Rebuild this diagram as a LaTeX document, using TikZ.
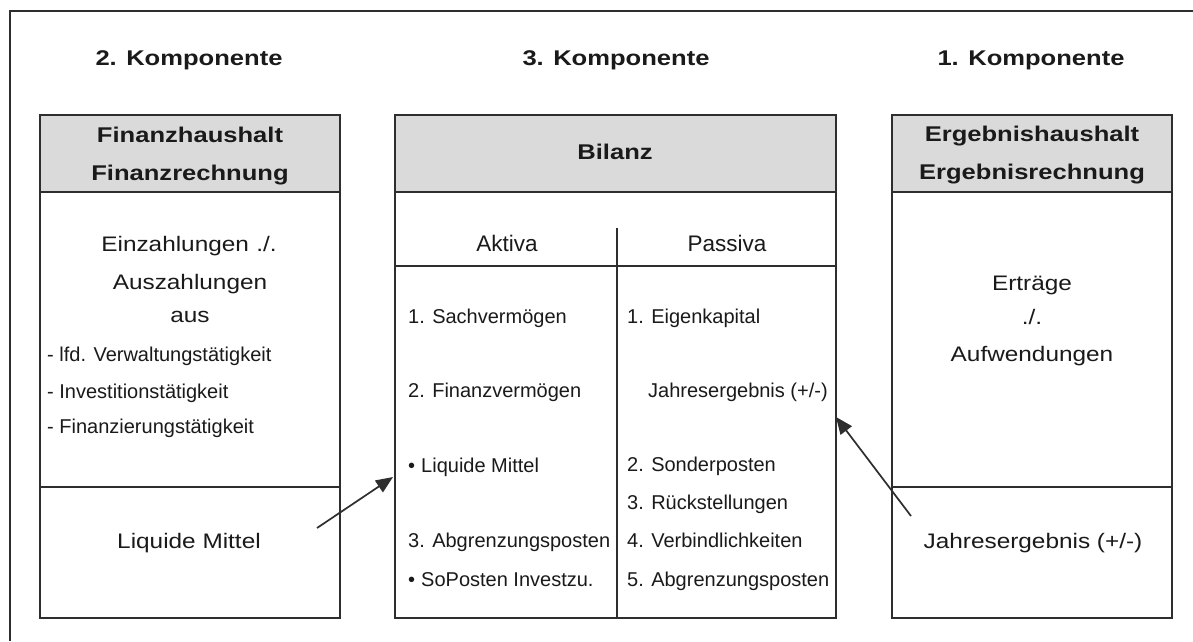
\documentclass[tikz,border=0pt]{standalone}
\usepackage{fontspec}
\setmainfont{Liberation Sans}
\newfontfamily\hdfont[FakeStretch=1.2]{Liberation Sans}
\newfontfamily\bigfont[FakeStretch=1.16]{Liberation Sans}
\usetikzlibrary{arrows.meta}
\definecolor{hdgray}{HTML}{DADADA}
\definecolor{linec}{HTML}{2E2E2E}
\definecolor{txtc}{HTML}{1A1A1A}
\begin{document}
\begin{tikzpicture}[x=1pt,y=-1pt,
  box/.style={draw=linec,line width=1.6pt},
  frameline/.style={draw=linec,line width=1.4pt},
  hd/.style={font=\hdfont\bfseries\fontsize{21.3}{25}\selectfont,anchor=base,text=txtc,inner sep=0pt},
  big/.style={font=\bigfont\fontsize{21}{25}\selectfont,anchor=base,text=txtc,inner sep=0pt},
  colhd/.style={font=\fontsize{22.5}{26}\selectfont,anchor=base,text=txtc,inner sep=0pt},
  item/.style={font=\fontsize{20}{24}\selectfont,anchor=base west,text=txtc,inner sep=0pt},
  arr/.style={draw=linec,line width=1.7pt,-{Triangle[length=17pt,width=14pt]}}]
\useasboundingbox (0,0) rectangle (1193,641);
\fill[white] (0,0) rectangle (1193,641);
% outer frame (cropped)
\draw[frameline] (1193,11) -- (10,11) -- (10,641);

% component titles
\node[hd] (k2) at (189,65) {2. Komponente};
\node[hd] (k3) at (616,65) {3. Komponente};
\node[hd] (k1) at (1031,65) {1. Komponente};

% left box
\draw[box,fill=hdgray] (40,115) rectangle (340,192);
\draw[box] (40,192) rectangle (340,618);
\draw[box] (40,487) -- (340,487);
\node[hd] (fh) at (190,142) {Finanzhaushalt};
\node[hd] (fr) at (190,180) {Finanzrechnung};
\node[big] (ez) at (189,251) {Einzahlungen\hspace{0.35em}./.};
\node[big] (az) at (190,289) {Auszahlungen};
\node[big] (aus) at (190,322) {aus};
\node[item] (l1) at (47,361) {- lfd. Verwaltungstätigkeit};
\node[item] (l2) at (47,398) {- Investitionstätigkeit};
\node[item] (l3) at (47,433) {- Finanzierungstätigkeit};
\node[big] (lm) at (189,548) {Liquide Mittel};

% middle box
\draw[box,fill=hdgray] (395,115) rectangle (836,192);
\draw[box] (395,192) rectangle (836,618);
\draw[box] (395,266) -- (836,266);
\draw[box] (617,228) -- (617,618);
\node[hd] (bil) at (615,159) {Bilanz};
\node[colhd] (akt) at (507,251) {Aktiva};
\node[colhd] (pas) at (727,251) {Passiva};
\node[item] (a1) at (408,323) {1. Sachvermögen};
\node[item] (a2) at (408,397) {2. Finanzvermögen};
\node[item] (a3) at (408,472) {\textbullet\hspace{0.3em}Liquide Mittel};
\node[item] (a4) at (408,547) {3. Abgrenzungsposten};
\node[item] (a5) at (408,586) {\textbullet\hspace{0.3em}SoPosten Investzu.};
\node[item] (p1) at (627,323) {1. Eigenkapital};
\node[item] (p1b) at (648,397) {Jahresergebnis (+/-)};
\node[item] (p2) at (627,471) {2. Sonderposten};
\node[item] (p3) at (627,509) {3. Rückstellungen};
\node[item] (p4) at (627,547) {4. Verbindlichkeiten};
\node[item] (p5) at (627,586) {5. Abgrenzungsposten};

% right box
\draw[box,fill=hdgray] (892,115) rectangle (1172,192);
\draw[box] (892,192) rectangle (1172,618);
\draw[box] (892,487) -- (1172,487);
\node[hd] (eh) at (1032,141) {Ergebnishaushalt};
\node[hd] (er) at (1032,179) {Ergebnisrechnung};
\node[big] (ert) at (1032,290) {Erträge};
\node[big] (sl) at (1032,324) {./.};
\node[big] (auf) at (1032,361) {Aufwendungen};
\node[big] (jer) at (1033,548) {Jahresergebnis (+/-)};

% arrows
\coordinate (s1) at (317,528);
\coordinate (t1) at (393,477);
\coordinate (s2) at (911,516);
\coordinate (t2) at (836,417);
\draw[arr] (s1) -- (t1);
\draw[arr] (s2) -- (t2);
\end{tikzpicture}
\end{document}
